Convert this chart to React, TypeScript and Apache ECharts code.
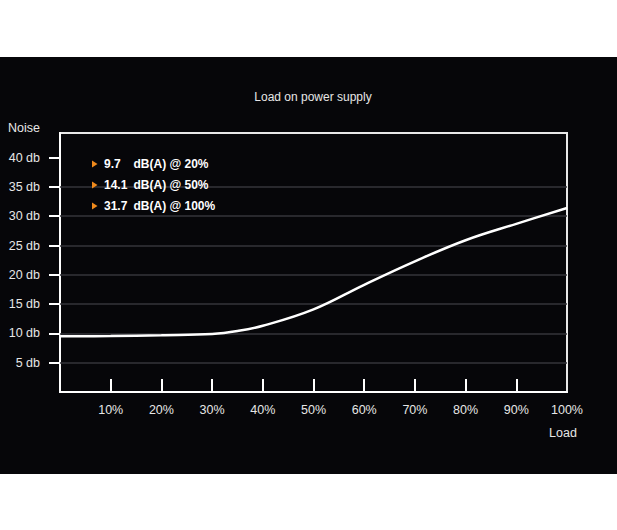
import React, { useEffect, useRef } from "react";
import * as echarts from "echarts";

const loadPct = [0, 10, 20, 30, 35, 40, 50, 60, 70, 80, 90, 100];
const noiseDb = [9.5, 9.55, 9.7, 9.9, 10.4, 11.3, 14.1, 18.3, 22.3, 25.9, 28.7, 31.4];
const xTicks = [10, 20, 30, 40, 50, 60, 70, 80, 90];
const xLabels = [10, 20, 30, 40, 50, 60, 70, 80, 90, 100];
const yTicks = [5, 10, 15, 20, 25, 30, 35, 40];
const gridLines = [5, 10, 15, 20, 25, 30, 35];
const legendValues = ["9.7", "14.1", "31.7"];
const legendRest = ["dB(A) @ 20%", "dB(A) @ 50%", "dB(A) @ 100%"];

const FONT = "'Liberation Sans', Arial, Helvetica, sans-serif";

export default function App() {
  const ref = useRef<HTMLDivElement>(null);
  useEffect(() => {
    if (!ref.current) return;
    const chart = echarts.init(ref.current, null, { renderer: "svg" });
    const legendGraphics: any[] = [];
    legendValues.forEach((v, i) => {
      const cy = 164 + i * 21;
      legendGraphics.push({
        type: "polygon",
        shape: { points: [[92, cy - 3.5], [97.5, cy], [92, cy + 3.5]] },
        style: { fill: "#f08a1c" },
        z: 10,
      });
      legendGraphics.push({
        type: "text",
        x: 104,
        y: cy,
        style: { text: v, fill: "#ffffff", font: `bold 12px ${FONT}`, textVerticalAlign: "middle" },
        z: 10,
      });
      legendGraphics.push({
        type: "text",
        x: 133.5,
        y: cy,
        style: { text: legendRest[i], fill: "#ffffff", font: `bold 12px ${FONT}`, textVerticalAlign: "middle" },
        z: 10,
      });
    });
    chart.setOption({
      animation: false,
      backgroundColor: "#ffffff",
      textStyle: { fontFamily: FONT },
      graphic: [
        { type: "rect", shape: { x: 0, y: 57, width: 617, height: 417 }, style: { fill: "#060609" }, z: -100 },
        {
          type: "text",
          x: 313,
          y: 97,
          style: { text: "Load on power supply", fill: "#e6e6e6", font: `12px ${FONT}`, textAlign: "center", textVerticalAlign: "middle" },
        },
        {
          type: "text",
          x: 8,
          y: 128,
          style: { text: "Noise", fill: "#e6e6e6", font: `12.5px ${FONT}`, textAlign: "left", textVerticalAlign: "middle" },
        },
        {
          type: "text",
          x: 563,
          y: 433,
          style: { text: "Load", fill: "#e6e6e6", font: `12.5px ${FONT}`, textAlign: "center", textVerticalAlign: "middle" },
        },
        ...legendGraphics,
      ],
      grid: {
        left: 60,
        top: 133,
        right: 50,
        bottom: 138,
        show: true,
        borderColor: "#e8e8e8",
        borderWidth: 2,
        backgroundColor: "transparent",
      },
      xAxis: {
        type: "value",
        min: 0,
        max: 100,
        interval: 10,
        splitLine: { show: false },
        axisLine: { show: true, lineStyle: { color: "#ffffff", width: 2 } },
        axisTick: {
          show: true,
          inside: true,
          length: 13,
          customValues: xTicks,
          lineStyle: { color: "#ffffff", width: 2 },
        },
        axisLabel: {
          customValues: xLabels,
          formatter: (v: number) => `${v}%`,
          color: "#e6e6e6",
          fontSize: 12.5,
          fontFamily: FONT,
          margin: 11,
        },
      },
      yAxis: {
        type: "value",
        min: 0,
        max: 44.2,
        interval: 5,
        splitLine: { show: false },
        axisLine: { show: true, lineStyle: { color: "#ffffff", width: 2 } },
        axisTick: {
          show: true,
          inside: false,
          length: 11,
          customValues: yTicks,
          lineStyle: { color: "#ffffff", width: 2 },
        },
        axisLabel: {
          customValues: yTicks,
          formatter: (v: number) => `${v} db`,
          color: "#e6e6e6",
          fontSize: 12.5,
          fontFamily: FONT,
          margin: 20,
        },
      },
      series: [
        {
          type: "line",
          data: loadPct.map((x, i) => [x, noiseDb[i]]),
          smooth: 0.4,
          showSymbol: false,
          lineStyle: { color: "#ffffff", width: 2.5 },
          z: 5,
          markLine: {
            silent: true,
            symbol: "none",
            label: { show: false },
            lineStyle: { color: "#35353a", width: 1.5, type: "solid" },
            data: gridLines.map((g) => ({ yAxis: g })),
            z: 1,
          },
        },
      ],
    });
    return () => chart.dispose();
  }, []);
  return (
    <div
      ref={ref}
      style={{ position: "absolute", left: 0, top: 0, width: 617, height: 530 }}
    />
  );
}
